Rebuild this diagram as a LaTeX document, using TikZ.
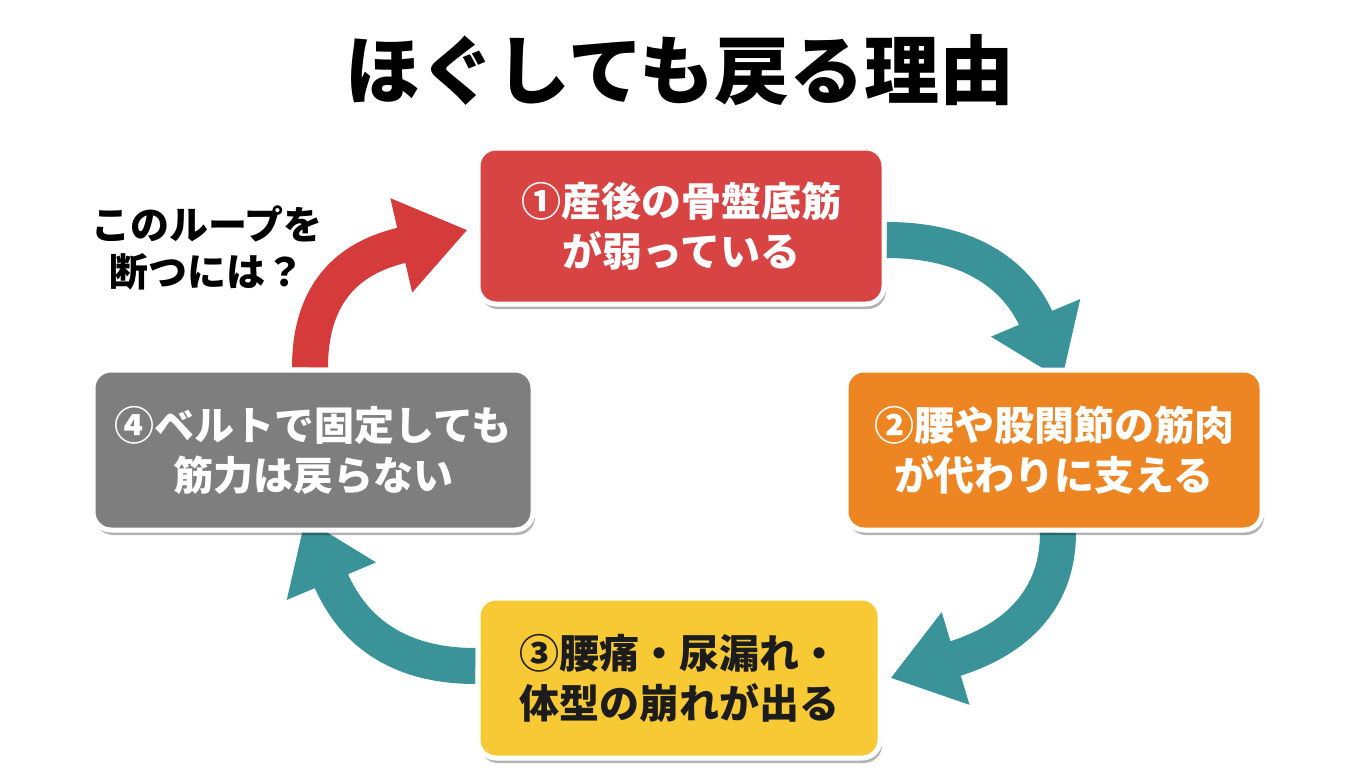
\documentclass[tikz,border=0pt]{standalone}
\usepackage{fontspec}
\setmainfont{Noto Sans CJK JP}
\usetikzlibrary{arrows.meta,shadows,backgrounds}
\definecolor{loopteal}{HTML}{3A9399}
\definecolor{looped}{HTML}{D63B3B}
\definecolor{boxred}{HTML}{D84444}
\definecolor{boxorange}{HTML}{EC8522}
\definecolor{boxyellow}{HTML}{F6C935}
\definecolor{boxgray}{HTML}{7E7E7E}
\definecolor{inktext}{HTML}{1C1C1C}

\begin{document}
\begin{tikzpicture}[x=1pt,y=-1pt,
  box/.style={draw=white,line width=5pt,rounded corners=18pt,minimum height=156pt,
    align=center,text=white,font=\fontsize{40}{50}\selectfont\bfseries,
    drop shadow={shadow xshift=2pt,shadow yshift=-5pt,opacity=0.3,fill=black}},
  looparrow/.style={line width=36pt,draw=loopteal,-{Triangle[length=68pt,width=92pt]}}]
\path[use as bounding box] (0,0) rectangle (1360,784);
\node[font=\fontsize{75}{80}\selectfont\bfseries] (title) at (680,70) {ほぐしても戻る理由};
\node[box,fill=boxred,minimum width=406pt] (b1) at (681,226) {①産後の骨盤底筋\\が弱っている};
\node[box,fill=boxorange,minimum width=416pt,minimum height=160pt] (b2) at (1054,450) {②腰や股関節の筋肉\\が代わりに支える};
\node[box,fill=boxyellow,minimum width=402pt,minimum height=160pt,text=inktext] (b3) at (679,678) {③腰痛・尿漏れ・\\体型の崩れが出る};
\node[box,fill=boxgray,minimum width=440pt,minimum height=160pt] (b4) at (313,450) {④ベルトで固定しても\\筋力は戻らない};
\node[align=center,font=\fontsize{39}{47}\selectfont\bfseries] (ask) at (207,248) {このループを\\断つには？};
\begin{scope}[on background layer]
\fill[white] (0,0) rectangle (1360,784);
\draw[looparrow] ([yshift=-14pt]b1.east) .. controls +(95,0) and +(-40,-95) .. ([xshift=8pt,yshift=-13pt]b2.north);
\draw[looparrow] ([xshift=4pt]b2.south) .. controls +(0,85) and +(100,-30) .. ([xshift=8pt]b3.east);
\draw[looparrow] ([yshift=12pt]b3.west) .. controls +(-95,0) and +(40,95) .. ([xshift=-8pt,yshift=14pt]b4.south);
\draw[looparrow,draw=looped] ([xshift=-3pt]b4.north) .. controls +(0,-95) and +(-95,22) .. ([xshift=-8pt,yshift=-4pt]b1.west);
\end{scope}
\end{tikzpicture}
\end{document}
